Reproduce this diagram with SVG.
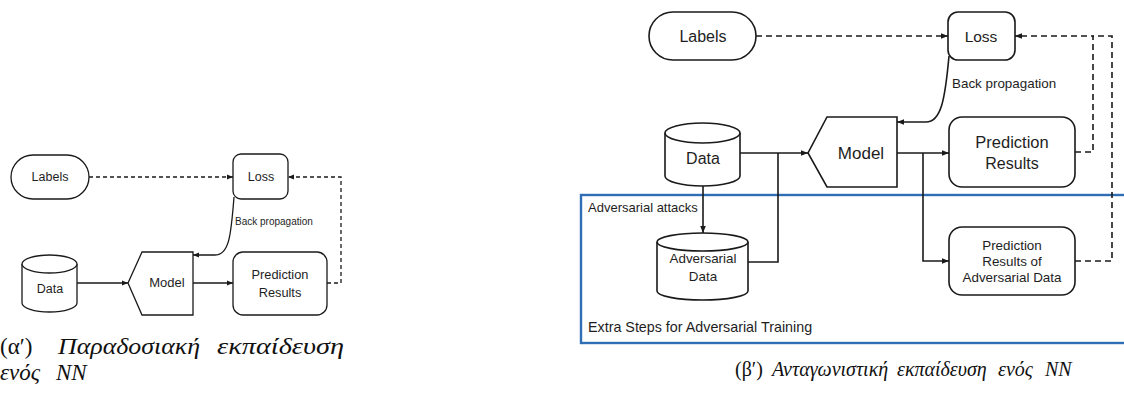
<svg xmlns="http://www.w3.org/2000/svg" width="1124" height="397" viewBox="0 0 1124 397">
  <style>
    .shape { fill: #ffffff; stroke: #1a1a1a; }
    .l .shape { stroke-width: 1.3; }
    .r .shape { stroke-width: 1.6; }
    .lbl { font-family: "Liberation Sans", Arial, sans-serif; fill: #1e1e1e; text-anchor: middle; }
    .lbl-start { font-family: "Liberation Sans", Arial, sans-serif; fill: #1e1e1e; }
    .wire { fill: none; stroke: #1a1a1a; }
    .dash-l { stroke-dasharray: 4 3; }
    .dash-r { stroke-dasharray: 6 4; }
    .cap { font-family: "Liberation Serif", "DejaVu Serif", serif; fill: #111111; }
    .it { font-style: italic; }
  </style>
  <defs>
    <marker id="arr" viewBox="0 0 10 10" refX="10" refY="5" markerWidth="6" markerHeight="6" markerUnits="userSpaceOnUse" orient="auto">
      <path d="M0,1 L10,5 L0,9 Z" fill="#1a1a1a"/>
    </marker>
    <marker id="arrR" viewBox="0 0 10 10" refX="10" refY="5" markerWidth="7" markerHeight="7" markerUnits="userSpaceOnUse" orient="auto">
      <path d="M0,1 L10,5 L0,9 Z" fill="#1a1a1a"/>
    </marker>
  </defs>

  <!-- ===== (a) standard training ===== -->
  <g class="l">
    <g id="l-labels">
      <rect class="shape" x="11" y="155" width="78" height="44" rx="22"/>
      <text class="lbl" x="50" y="181" font-size="12.5">Labels</text>
    </g>
    <g id="l-loss">
      <rect class="shape" x="233" y="154" width="55" height="45" rx="8"/>
      <text class="lbl" x="261" y="181" font-size="12.5">Loss</text>
    </g>
    <g id="l-data">
      <path class="shape" d="M22,264 A27.5,9 0 0 1 77,264 V303 A27.5,9 0 0 1 22,303 Z"/>
      <path class="shape" fill="none" d="M22,264 A27.5,9 0 0 0 77,264"/>
      <text class="lbl" x="50" y="293" font-size="12.5">Data</text>
    </g>
    <g id="l-model">
      <path class="shape" d="M142,252 H193 V315 H142 L128,283 Z"/>
      <text class="lbl" x="167" y="287" font-size="13">Model</text>
    </g>
    <g id="l-pred">
      <rect class="shape" x="233" y="252" width="94" height="63" rx="10"/>
      <text class="lbl" x="280" y="279" font-size="12.8">Prediction</text>
      <text class="lbl" x="280" y="297" font-size="12.8">Results</text>
    </g>
    <g id="l-connectors">
      <path class="wire dash-l" stroke-width="1.3" d="M89,177 H233" marker-end="url(#arr)"/>
      <path class="wire dash-l" stroke-width="1.3" d="M327,283 H341 V177 H288" marker-end="url(#arr)"/>
      <path class="wire" stroke-width="1.3" d="M77,283 H128" marker-end="url(#arr)"/>
      <path class="wire" stroke-width="1.3" d="M193,283 H233" marker-end="url(#arr)"/>
      <path class="wire" stroke-width="1.3" d="M234,197 C231,236 229,255 215,255 H193" marker-end="url(#arr)"/>
      <text class="lbl-start" x="235" y="225" font-size="10">Back propagation</text>
    </g>
  </g>

  <!-- ===== (b) adversarial training ===== -->
  <g class="r">
    <g id="r-extra">
      <rect x="581" y="195" width="560" height="148" fill="none" stroke="#2f6db5" stroke-width="2.4"/>
      <text class="lbl-start" x="588" y="332" font-size="14.3">Extra Steps for Adversarial Training</text>
    </g>
    <g id="r-labels">
      <rect class="shape" x="649" y="12" width="107" height="48" rx="24"/>
      <text class="lbl" x="703" y="41.5" font-size="16">Labels</text>
    </g>
    <g id="r-loss">
      <rect class="shape" x="948" y="12" width="67" height="48" rx="10"/>
      <text class="lbl" x="981" y="41.5" font-size="15.5">Loss</text>
    </g>
    <g id="r-data">
      <path class="shape" d="M665,133 A37.5,10 0 0 1 740,133 V176 A37.5,10 0 0 1 665,176 Z"/>
      <path class="shape" fill="none" d="M665,133 A37.5,10 0 0 0 740,133"/>
      <text class="lbl" x="703" y="164" font-size="16">Data</text>
    </g>
    <g id="r-model">
      <path class="shape" d="M827,117 H897 V187 H827 L808,153 Z"/>
      <text class="lbl" x="861" y="159" font-size="17">Model</text>
    </g>
    <g id="r-pred">
      <rect class="shape" x="949" y="117" width="126" height="70" rx="13"/>
      <text class="lbl" x="1012" y="148" font-size="16.5">Prediction</text>
      <text class="lbl" x="1012" y="169" font-size="16">Results</text>
    </g>
    <g id="r-adv-data">
      <path class="shape" d="M657,242 A45.5,9 0 0 1 748,242 V291 A45.5,9 0 0 1 657,291 Z"/>
      <path class="shape" fill="none" d="M657,242 A45.5,9 0 0 0 748,242"/>
      <text class="lbl" x="703" y="263" font-size="13.4">Adversarial</text>
      <text class="lbl" x="703" y="281" font-size="13.4">Data</text>
    </g>
    <g id="r-adv-pred">
      <rect class="shape" x="949" y="227" width="126" height="68" rx="13"/>
      <text class="lbl" x="1012" y="250" font-size="13.4">Prediction</text>
      <text class="lbl" x="1012" y="266" font-size="13.4">Results of</text>
      <text class="lbl" x="1012" y="282" font-size="13.4">Adversarial Data</text>
    </g>
    <g id="r-connectors">
      <path class="wire dash-r" stroke-width="1.6" d="M756,36 H948" marker-end="url(#arrR)"/>
      <path class="wire dash-r" stroke-width="1.6" d="M1075,261 H1112 V36 H1093"/>
      <path class="wire dash-r" stroke-width="1.6" d="M1075,152 H1093 V36 H1015" marker-end="url(#arrR)"/>
      <path class="wire" stroke-width="1.6" d="M740,153 H808" marker-end="url(#arrR)"/>
      <path class="wire" stroke-width="1.6" d="M778,153 V262 H748"/>
      <path class="wire" stroke-width="1.6" d="M703,186 V233" marker-end="url(#arrR)"/>
      <path class="wire" stroke-width="1.6" d="M897,153 H949" marker-end="url(#arrR)"/>
      <path class="wire" stroke-width="1.6" d="M923,153 V261 H949" marker-end="url(#arrR)"/>
      <path class="wire" stroke-width="1.6" d="M949,56 C945,100 941,122 926,122 H897" marker-end="url(#arrR)"/>
      <text class="lbl-start" x="952" y="88" font-size="13.4">Back propagation</text>
      <text class="lbl-start" x="588" y="212" font-size="13">Adversarial attacks</text>
    </g>
  </g>

  <!-- ===== captions ===== -->
  <g id="captions">
    <text class="cap" y="354" font-size="23"><tspan x="0">(α′)</tspan><tspan class="it" x="58" textLength="142" lengthAdjust="spacingAndGlyphs">Παραδοσιακή</tspan><tspan class="it" x="217" textLength="127" lengthAdjust="spacingAndGlyphs">εκπαίδευση</tspan></text>
    <text class="cap it" y="380" font-size="23"><tspan x="0">ενός</tspan><tspan x="56">NN</tspan></text>
    <text class="cap" y="376" font-size="20"><tspan x="735">(β′)</tspan><tspan class="it" x="772">Ανταγωνιστική</tspan><tspan class="it" x="897">εκπαίδευση</tspan><tspan class="it" x="998">ενός</tspan><tspan class="it" x="1045">NN</tspan></text>
  </g>
</svg>
